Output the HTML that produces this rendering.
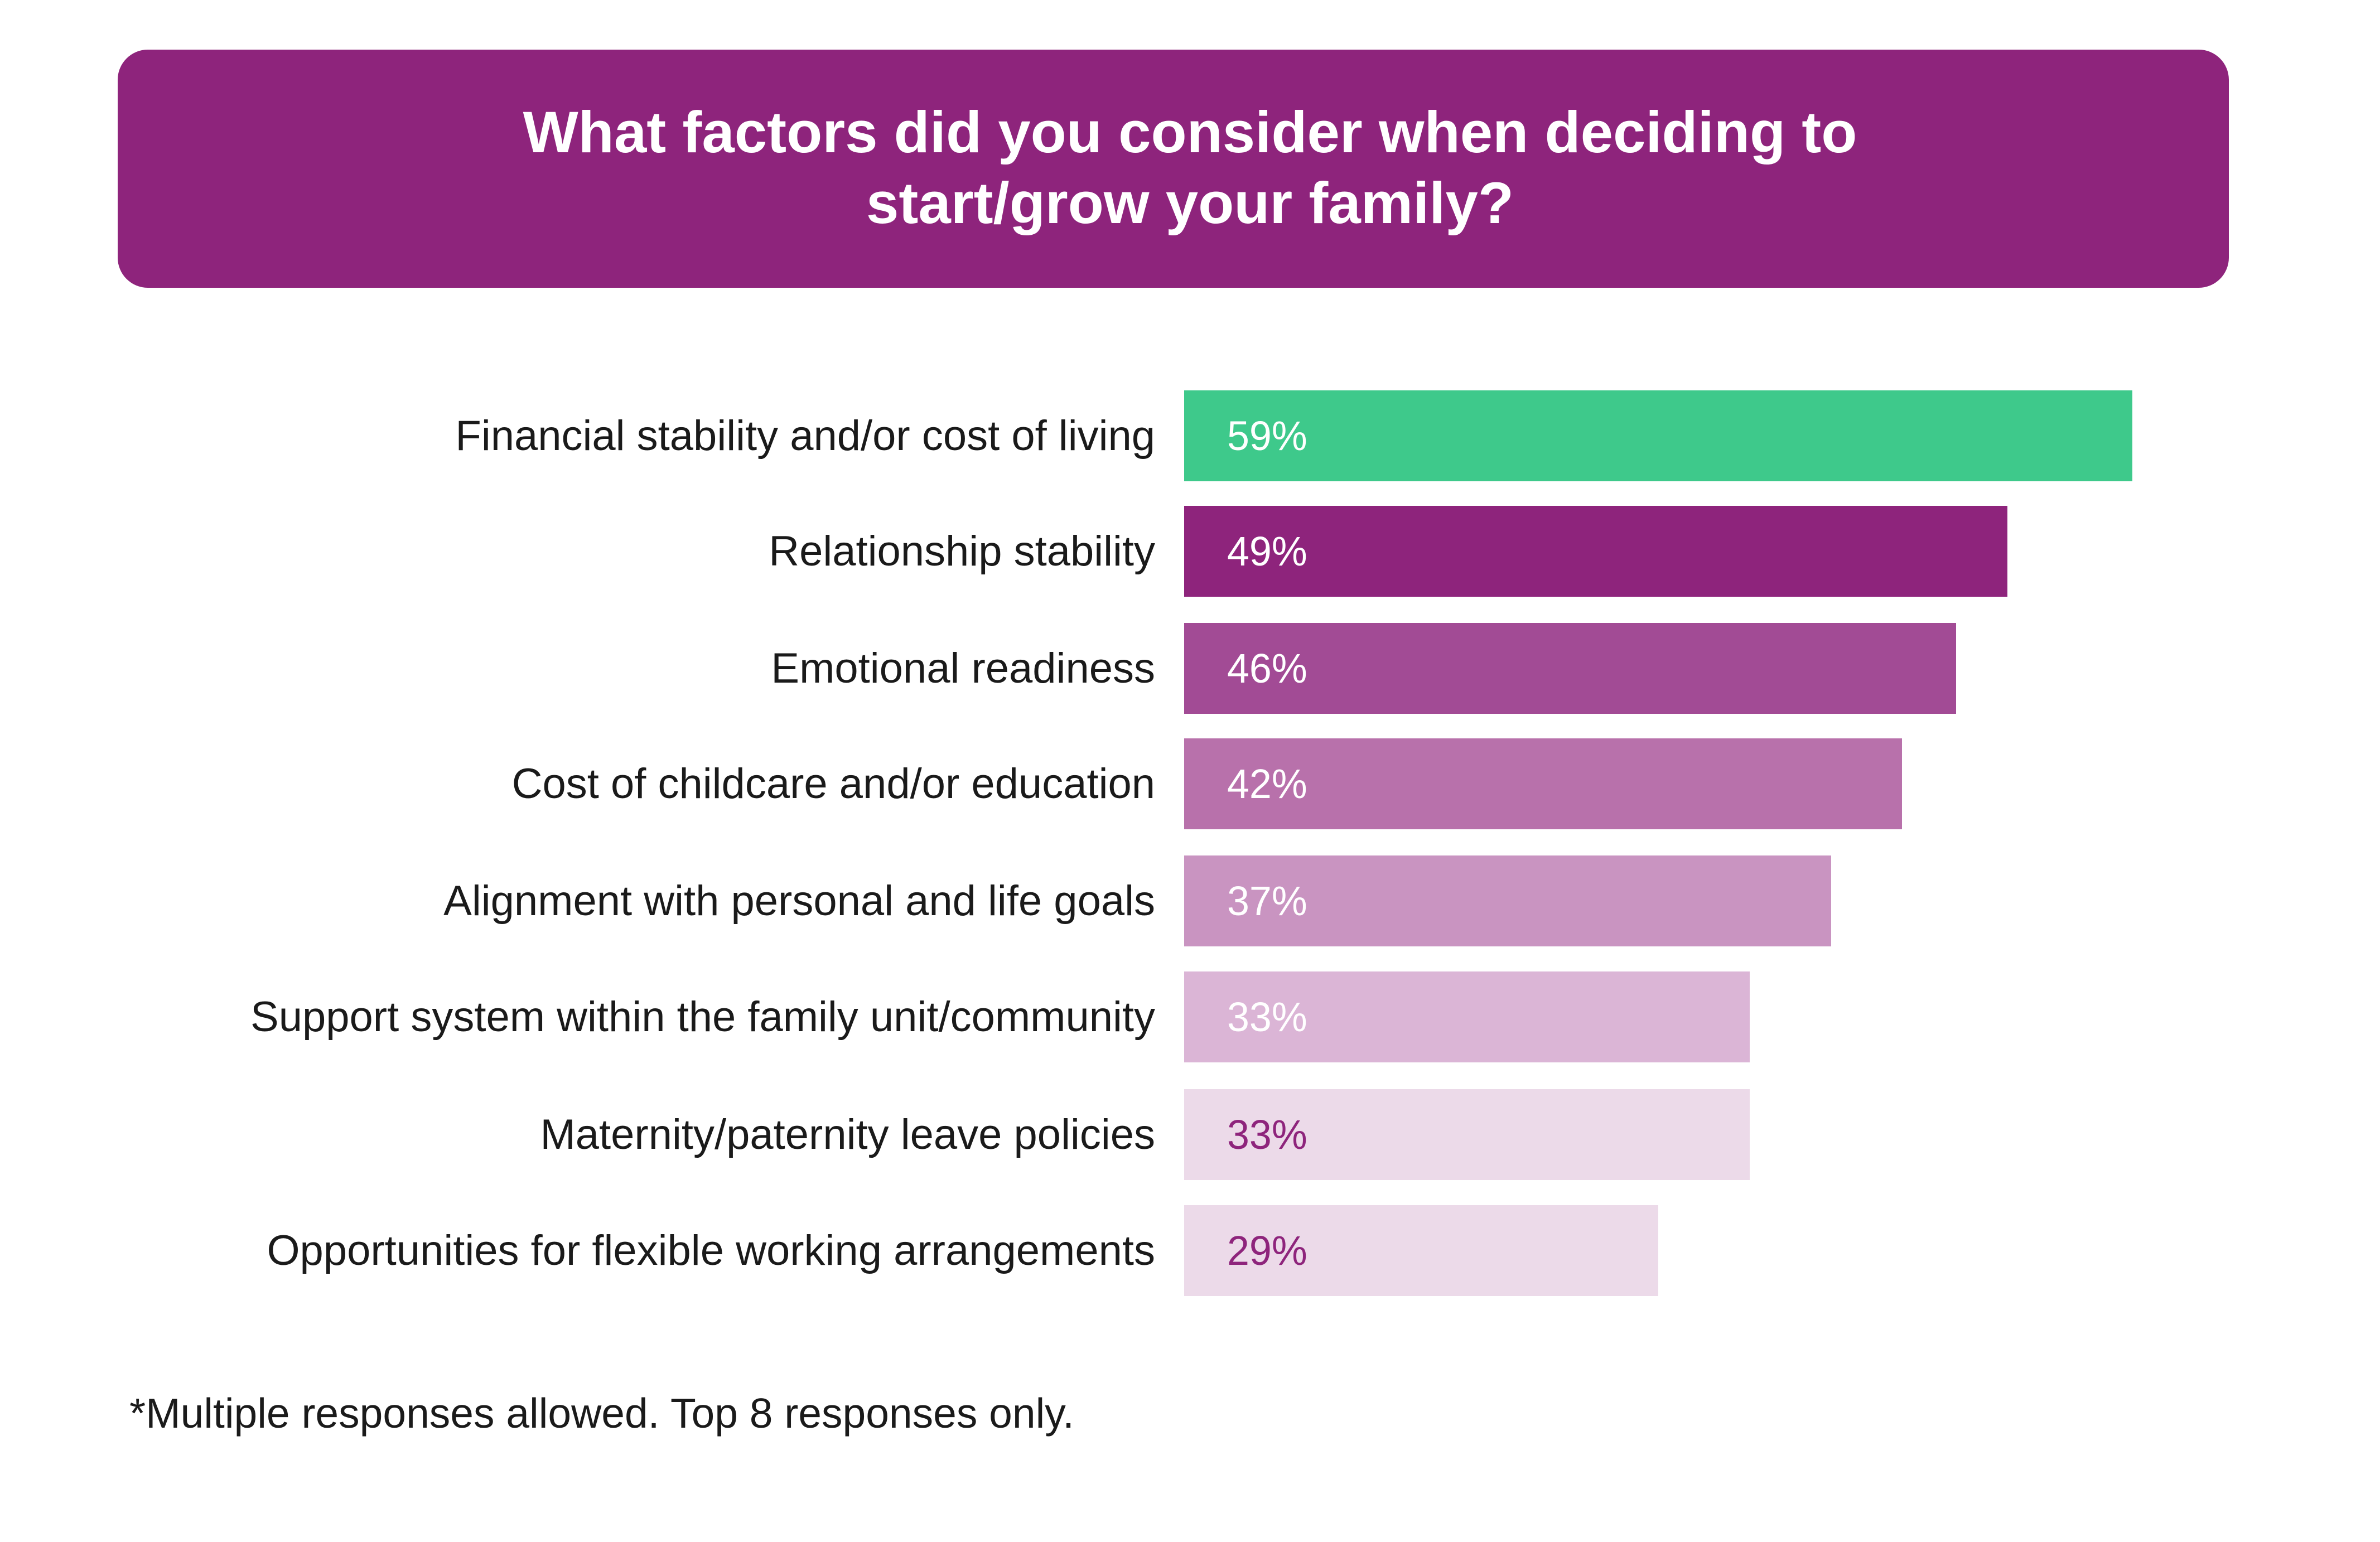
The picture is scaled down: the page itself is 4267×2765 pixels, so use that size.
<!DOCTYPE html>
<html><head><meta charset="utf-8"><style>
body{margin:0;width:4267px;height:2765px;background:#fff;position:relative;overflow:hidden;font-family:"Liberation Sans",sans-serif;}
.hdr{position:absolute;left:211px;top:89px;width:3785px;height:427px;background:#8E247C;border-radius:54px;}
.t{position:absolute;left:0;width:4267px;text-align:center;color:#fff;font-weight:bold;font-size:105px;line-height:120px;}
.lab{position:absolute;right:2196px;font-size:76px;color:#1a1a1a;line-height:163px;height:163px;white-space:nowrap;}
.bar{position:absolute;left:2123px;height:163px;}
.pct{position:absolute;left:2200px;font-size:74px;line-height:163px;height:163px;color:#fff;transform:scaleX(0.97);transform-origin:left center;}
.foot{position:absolute;left:232px;top:2494px;font-size:75px;color:#1a1a1a;line-height:80px;}
</style></head><body>
<div class="hdr"></div>
<div class="t" style="top:178px">What factors did you consider when deciding to</div>
<div class="t" style="top:305px">start/grow your family?</div>

<div class="bar" style="top:700px;width:1700px;background:#3EC98B"></div>
<div class="bar" style="top:907px;width:1476px;background:#8E247C"></div>
<div class="bar" style="top:1117px;width:1384px;background:#A24B95"></div>
<div class="bar" style="top:1324px;width:1287px;background:#B871AB"></div>
<div class="bar" style="top:1534px;width:1160px;background:#C994C1"></div>
<div class="bar" style="top:1742px;width:1014px;background:#DBB5D6"></div>
<div class="bar" style="top:1953px;width:1014px;background:#ECDAE9"></div>
<div class="bar" style="top:2161px;width:850px;background:#ECDAE9"></div>

<div class="pct" style="top:700px">59%</div>
<div class="pct" style="top:907px">49%</div>
<div class="pct" style="top:1117px">46%</div>
<div class="pct" style="top:1324px">42%</div>
<div class="pct" style="top:1534px">37%</div>
<div class="pct" style="top:1742px">33%</div>
<div class="pct" style="top:1953px;color:#8E247C">33%</div>
<div class="pct" style="top:2161px;color:#8E247C">29%</div>

<div class="lab" style="top:700px">Financial stability and/or cost of living</div>
<div class="lab" style="top:907px">Relationship stability</div>
<div class="lab" style="top:1117px">Emotional readiness</div>
<div class="lab" style="top:1324px">Cost of childcare and/or education</div>
<div class="lab" style="top:1534px">Alignment with personal and life goals</div>
<div class="lab" style="top:1742px">Support system within the family unit/community</div>
<div class="lab" style="top:1953px">Maternity/paternity leave policies</div>
<div class="lab" style="top:2161px">Opportunities for flexible working arrangements</div>

<div class="foot">*Multiple responses allowed. Top 8 responses only.</div>
</body></html>
